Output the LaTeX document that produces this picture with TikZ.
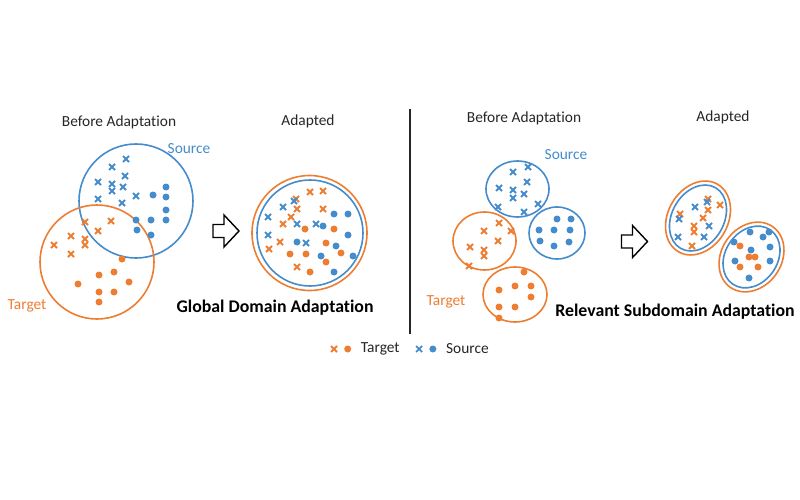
\documentclass[tikz,border=0pt]{standalone}
\usepackage{fontspec}
\setmainfont{Carlito}[Ligatures=NoCommon]
\usetikzlibrary{positioning, shapes.misc}
\definecolor{tgtc}{RGB}{237,125,49}
\definecolor{srcc}{RGB}{68,140,204}

\begin{document}
\begin{tikzpicture}[x=1pt, y=-1pt,
		dom/.style={line width=1.6pt},
		tx/.style={cross out, draw, line width=1.8pt, minimum size=4.2pt, inner sep=0pt},
		dt/.style={circle, fill, inner sep=0pt, minimum size=7pt},
		ttl/.style={font=\fontsize{15.4}{18}\selectfont, text=black!85},
		big/.style={font=\fontsize{17.8}{21}\selectfont\bfseries},
		harrow/.pic={\draw[line width=1.4pt, line join=miter] (-13,-6.5) -- (-2,-6.5) -- (-2,-16) -- (13,0) -- (-2,16) -- (-2,6.5) -- (-13,6.5) -- cycle;}]
		\useasboundingbox (0,0) rectangle (800,500);
		% global domain adaptation
		\draw[dom, srcc] (136,201) circle[radius=57]; \draw[dom, tgtc] (97,262) circle[radius=57];
		\foreach \p [count=\i] in {(126,159),(112,167),(125,176),(98,182),(112,184),(112,191),(123,187),(98,199),(136,196),(122,203)} \node[tx, srcc] (bsx\i) at \p {};
		\foreach \p [count=\i] in {(166,187),(153,195),(166,197),(166,210),(166,220),(151,220),(136,220),(137,230),(151,235)} \node[dt, srcc] (bsd\i) at \p {};
		\foreach \p [count=\i] in {(85,222),(111,221),(98,231),(71,236),(85,239),(85,245),(54,245),(71,254)} \node[tx, tgtc] (btx\i) at \p {};
		\foreach \p [count=\i] in {(122,259),(99,275),(114,272),(78,284),(129,282),(99,292),(114,292),(99,302)} \node[dt, tgtc] (btd\i) at \p {};
		\node[ttl] (bt1) at (119,122) {Before Adaptation};
		\node[ttl, text=srcc] (bs1) at (189,149) {Source}; \node[ttl, text=tgtc] (bg1) at (27,306) {Target};
		\pic at (226,231) {harrow};
		\draw[dom, tgtc] (309.5,233) circle[radius=57.5]; \draw[dom, srcc] (310,233) circle[radius=53];
		\foreach \p [count=\i] in {(310,192),(323,191),(296,199),(297,209),(323,209),(291,217),(283,224),(280,242),(269,249),(297,267)} \node[tx, tgtc] (atx\i) at \p {};
		\foreach \p [count=\i] in {(294,201),(283,207),(268,217),(297,224),(316,224),(268,235),(306,243)} \node[tx, srcc] (asx\i) at \p {};
		\foreach \p [count=\i] in {(334,214),(348,214),(323,226),(348,235),(297,242),(336,246),(321,256),(353,256),(334,272)} \node[dt, srcc] (asd\i) at \p {};
		\foreach \p [count=\i] in {(305,229),(334,229),(326,243),(290,254),(306,254),(341,253),(326,262),(310,272)} \node[dt, tgtc] (atd\i) at \p {};
		\node[ttl] (at1) at (308,121) {Adapted};
		\node[big] (gda) at (275,308) {Global Domain Adaptation};
		\draw[line width=1.5pt, black!85] (410,109) -- (410,334);
		% relevant subdomain adaptation
		\draw[dom, srcc] (517.5,189) ellipse[x radius=31.5, y radius=28]; \draw[dom, srcc] (557,233) ellipse[x radius=28, y radius=26];
		\draw[dom, tgtc] (484.5,241) ellipse[x radius=31.5, y radius=29]; \draw[dom, tgtc] (515,294.5) ellipse[x radius=32, y radius=27.5];
		\foreach \p [count=\i] in {(528,167),(513,172),(527,182),(499,188),(513,190),(513,198),(524,194),(498,207),(538,204),(524,212)} \node[tx, srcc] (rsx\i) at \p {};
		\foreach \p [count=\i] in {(557,219),(571,219),(539,230),(554,230),(570,230),(540,241),(554,246),(569,242)} \node[dt, srcc] (rsd\i) at \p {};
		\foreach \p [count=\i] in {(499,223),(484,231),(511,231),(498,241),(470,247),(484,250),(484,256),(469,266)} \node[tx, tgtc] (rtx\i) at \p {};
		\foreach \p [count=\i] in {(524,272),(499,290),(515,286),(531,286),(531,297),(499,307),(515,307),(499,318)} \node[dt, tgtc] (rtd\i) at \p {};
		\node[ttl] (bt2) at (524,118) {Before Adaptation};
		\node[ttl, text=srcc] (bs2) at (566,155) {Source}; \node[ttl, text=tgtc] (bg2) at (446,302) {Target};
		\pic at (634.5,241.5) {harrow};
		\draw[dom, tgtc, shift={(698,218)}, rotate=60] (0,0) ellipse[x radius=39, y radius=30];
		\draw[dom, srcc, shift={(698,218)}, rotate=60] (0,0) ellipse[x radius=35, y radius=26];
		\draw[dom, tgtc, shift={(751.5,257)}, rotate=55] (0,0) ellipse[x radius=37, y radius=30];
		\draw[dom, srcc, shift={(751.5,257)}, rotate=55] (0,0) ellipse[x radius=33, y radius=26];
		\foreach \p [count=\i] in {(708,199),(720,205),(708,210),(680,214),(703,218),(694,226),(694,232),(692,246)} \node[tx, tgtc] (qtx\i) at \p {};
		\foreach \p [count=\i] in {(707,202),(695,207),(679,219),(709,226),(678,237),(704,237)} \node[tx, srcc] (qsx\i) at \p {};
		\foreach \p [count=\i] in {(750,232),(763,237),(769,232),(734,242),(751,250),(770,247),(735,261),(770,261),(749,278)} \node[dt, srcc] (qsd\i) at \p {};
		\foreach \p [count=\i] in {(740,246),(749,257),(755,257),(740,267),(758,267)} \node[dt, tgtc] (qtd\i) at \p {};
		\node[ttl] (at2) at (723,117) {Adapted};
		\node[big] (rsa) at (675,312) {Relevant Subdomain Adaptation};
		% legend
		\node[tx, tgtc] (lgtx) at (334,349) {}; \node[dt, tgtc, right=7pt of lgtx] (lgtd) {};
		\node[ttl, right=6pt of lgtd] (lgtt) {Target};
		\node[tx, srcc, right=13pt of lgtt] (lgsx) {}; \node[dt, srcc, right=7pt of lgsx] (lgsd) {};
		\node[ttl, right=6pt of lgsd] (lgst) {Source};
\end{tikzpicture}
\end{document}
